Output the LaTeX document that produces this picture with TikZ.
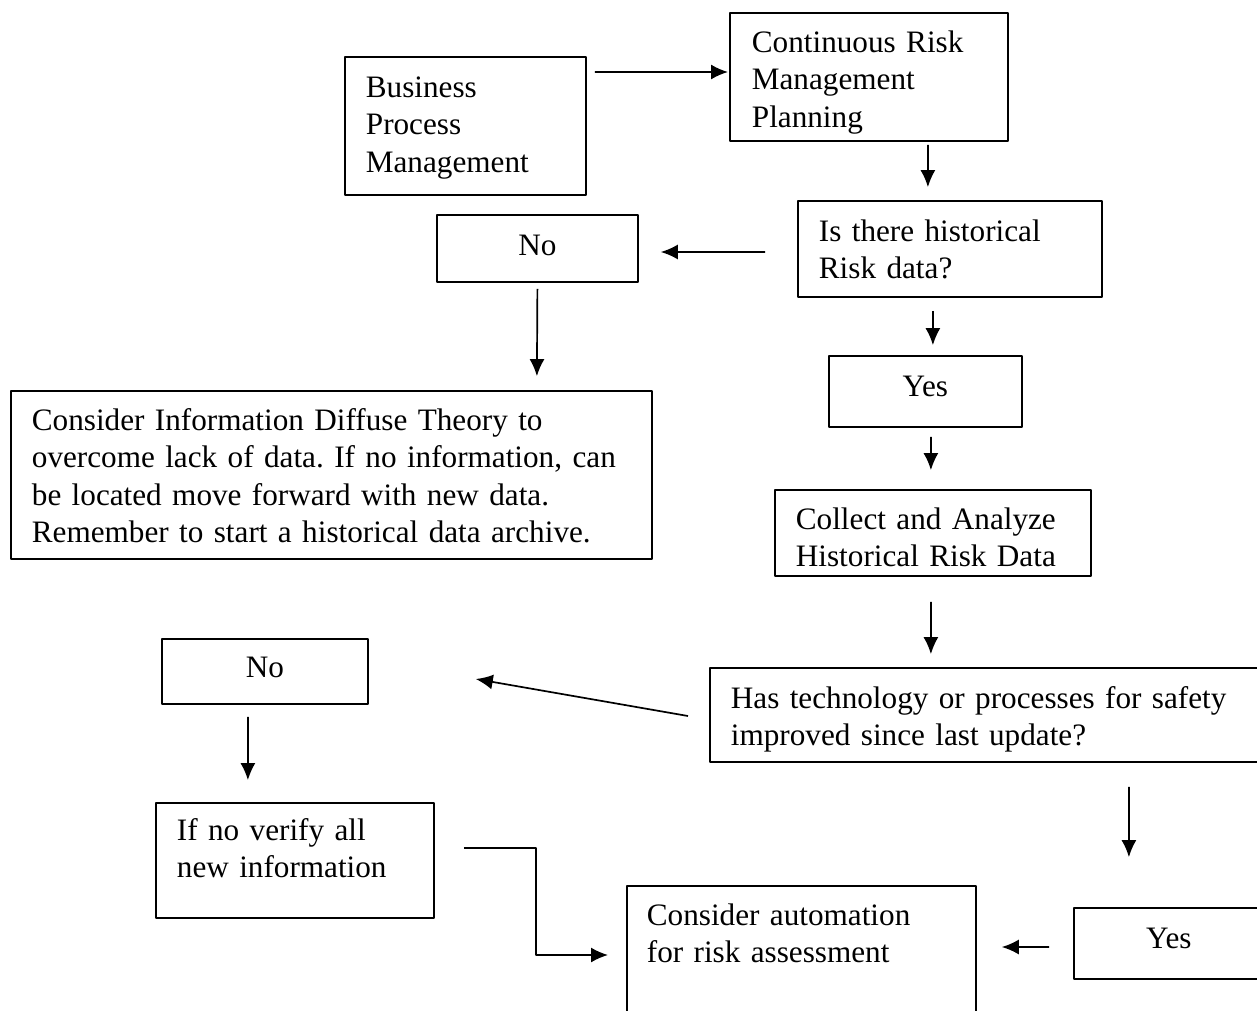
\documentclass[tikz,border=0pt]{standalone}
\usepackage{fontspec}
\setmainfont{Liberation Serif}
\usetikzlibrary{arrows.meta,calc}
\frenchspacing

\begin{document}
\begin{tikzpicture}[>={Latex[length=17bp,width=15bp]},line join=bevel,
  font=\fontsize{31.2bp}{37.5bp}\selectfont,
  flowbox/.style={draw,line width=1.8bp,anchor=base west,inner ysep=0bp,align=left},
  answerbox/.style={flowbox,align=center,inner xsep=10bp},
  link/.style={->,line width=1.7bp},]
%%
\useasboundingbox (0bp,0bp) rectangle (1257bp,-1011bp);
\node (node_bpm) at (344bp,-97bp) [flowbox,inner xsep=21bp,text width=199bp,text height=40bp,text depth=98bp] {Business\\Process\\Management};
  \node (node_crmp) at (729bp,-52bp) [flowbox,inner xsep=22bp,text width=234bp,text height=39bp,text depth=89bp] {Continuous Risk\\Management\\Planning};
  \node (node_histq) at (797bp,-241bp) [flowbox,inner xsep=21bp,text width=262bp,text height=40bp,text depth=56bp] {Is there historical\\Risk data?};
  \node (node_no1) at (436bp,-255bp) [answerbox,text width=181bp,text height=40bp,text depth=27bp] {No};
  \node (node_yes1) at (828bp,-396bp) [answerbox,text width=173bp,text height=40bp,text depth=31bp] {Yes};
  \node (node_diffuse) at (10bp,-430bp) [flowbox,inner xsep=21bp,text width=599bp,text height=39bp,text depth=129bp] {Consider Information Diffuse Theory to\\overcome lack of data. If no information, can\\be located move forward with new data.\\Remember to start a historical data archive.};
  \node (node_collect) at (774bp,-529bp) [flowbox,inner xsep=21bp,text width=274bp,text height=39bp,text depth=47bp] {Collect and Analyze\\Historical Risk Data};
  \node (node_techq) at (709bp,-708bp) [flowbox,inner xsep=21bp,text width=549bp,text height=40bp,text depth=54bp] {Has technology or processes for safety\\improved since last update?};
  \node (node_no2) at (161bp,-677bp) [answerbox,text width=186bp,text height=38bp,text depth=27bp] {No};
  \node (node_verify) at (155bp,-840bp) [flowbox,inner xsep=21bp,text width=236bp,text height=37bp,text depth=78bp] {If no verify all\\new information};
  \node (node_autom) at (626bp,-925bp) [flowbox,inner xsep=20bp,text width=309bp,text height=39bp,text depth=125bp] {Consider automation\\for risk assessment};
  \node (node_yes2) at (1073bp,-948bp) [answerbox,text width=170bp,text height=40bp,text depth=31bp] {Yes};
%
  \draw [link] ($(node_bpm.east)+(8bp,54bp)$) -- ($(node_crmp.west)+(-1bp,5bp)$);
  \draw [link] ($(node_crmp.south)+(59bp,-3bp)$) -- ($(node_histq.north)+(-22bp,13bp)$);
  \draw [link] ($(node_histq.west)+(-32bp,-3bp)$) -- ($(node_no1.east)+(22bp,-3.5bp)$);
  \draw [link] ($(node_no1.south)+(0bp,-6bp)$) -- ($(node_diffuse.north)+(205.5bp,14bp)$);
  \draw [link] ($(node_histq.south)+(-17bp,-13bp)$) -- ($(node_yes1.north)+(7.5bp,10bp)$);
  \draw [link] ($(node_yes1.south)+(5.5bp,-9bp)$) -- ($(node_collect.north)+(-2bp,19bp)$);
  \draw [link] ($(node_collect.south)+(-2bp,-25bp)$) -- ($(node_techq.north)+(-74.5bp,13bp)$);
  \draw [link] ($(node_techq.west)+(-21bp,-1bp)$) -- ($(node_no2.east)+(107bp,-7.5bp)$);
  \draw [link] ($(node_no2.south)+(-17bp,-12bp)$) -- ($(node_verify.north)+(-47bp,22bp)$);
  \draw [link] ($(node_verify.east)+(29bp,12.5bp)$) -- ++(72bp,0bp) |- ($(node_autom.west)+(-18bp,13bp)$);
  \draw [link] ($(node_techq.south)+(123.5bp,-24bp)$) -- ($(node_yes2.north)+(-40bp,50bp)$);
  \draw [link] ($(node_yes2.west)+(-24bp,-3.5bp)$) -- ($(node_autom.east)+(25bp,21bp)$);
%
\end{tikzpicture}
\end{document}
